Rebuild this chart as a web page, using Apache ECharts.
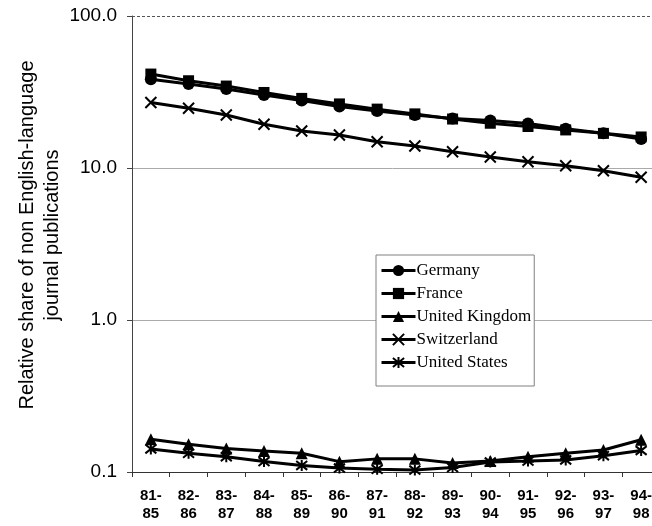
<!DOCTYPE html>
<html>
<head>
<meta charset="utf-8">
<script src="https://cdn.jsdelivr.net/npm/echarts@6/dist/echarts.min.js"></script>
<style>
html,body{margin:0;padding:0;background:#fff;}
#chart{width:652px;height:526px;}
</style>
</head>
<body>
<div id="chart"></div>
<script>
const categories = ['81-85','82-86','83-87','84-88','85-89','86-90','87-91','88-92','89-93','90-94','91-95','92-96','93-97','94-98'];
const germany = [38.3, 35.7, 33.1, 30.2, 27.8, 25.4, 23.7, 22.3, 21.2, 20.5, 19.6, 18.1, 16.9, 15.5];
const france = [41.5, 37.5, 34.6, 31.4, 28.7, 26.4, 24.4, 22.7, 21.0, 19.7, 18.75, 17.8, 16.9, 16.0];
const uk = [0.164, 0.152, 0.143, 0.1375, 0.133, 0.117, 0.122, 0.122, 0.1146, 0.118, 0.126, 0.133, 0.1395, 0.163];
const switzerland = [27.0, 24.7, 22.3, 19.4, 17.5, 16.5, 14.9, 13.95, 12.8, 11.8, 11.0, 10.35, 9.6, 8.7];
const usa = [0.1417, 0.1327, 0.126, 0.1172, 0.1104, 0.1062, 0.1042, 0.103, 0.107, 0.1163, 0.118, 0.120, 0.128, 0.1385];
const yTicks = [0.1, 1, 10, 100];
const yTitle = 'Relative share of non English-language\njournal publications';

const xSym = 'path://M0,0L10,10M10,0L0,10';
const starSym = 'path://M0,1L10,9M10,1L0,9M5,0L5,10';

function mk(name, data, symbol, size, isPath) {
  return {
    name: name, type: 'line', data: data,
    symbol: symbol, symbolSize: size, showSymbol: true,
    lineStyle: {color: '#000', width: 3},
    itemStyle: isPath ? {color: 'rgba(0,0,0,0)', borderColor: '#000', borderWidth: 2} : {color: '#000', borderColor: '#000', borderWidth: 0},
    emphasis: {disabled: true},
    animation: false
  };
}

const series = [
  mk('Germany', germany, 'circle', 12, false),
  mk('France', france, 'rect', 11, false),
  mk('United Kingdom', uk, 'triangle', 12, false),
  mk('Switzerland', switzerland, xSym, 11, true),
  mk('United States', usa, starSym, 11, true)
];
series[0].markLine = {
  silent: true, symbol: 'none', label: {show: false},
  lineStyle: {color: '#555', type: [3, 2], width: 1},
  data: [{yAxis: yTicks[yTicks.length - 1]}]
};

const chart = echarts.init(document.getElementById('chart'), null, {renderer: 'canvas'});
chart.setOption({
  backgroundColor: '#fff',
  animation: false,
  grid: {left: 132, top: 16, width: 528, height: 456, containLabel: false, outerBoundsMode: 'none'},
  legend: {
    orient: 'vertical',
    left: 376, top: 255,
    itemWidth: 34, itemHeight: 14, itemGap: 6,
    padding: [7, 3, 15, 4],
    backgroundColor: '#fff',
    borderColor: '#808080', borderWidth: 1,
    lineStyle: {width: 3},
    textStyle: {fontFamily: 'Liberation Serif', fontSize: 17, color: '#000', padding: [0, 0, 0, -4]},
    data: ['Germany', 'France', 'United Kingdom', 'Switzerland', 'United States']
  },
  xAxis: {
    type: 'category', data: categories, boundaryGap: true,
    axisLine: {lineStyle: {color: '#333', width: 1}},
    axisTick: {show: true, length: 5, lineStyle: {color: '#333'}},
    axisLabel: {
      interval: 0, margin: 15,
      fontFamily: 'Liberation Sans', fontSize: 15, fontWeight: 'bold', color: '#000', lineHeight: 18,
      formatter: v => v.replace('-', '-\n')
    },
    splitLine: {show: false}
  },
  yAxis: {
    type: 'log', logBase: 10, min: yTicks[0], max: yTicks[yTicks.length - 1],
    axisLine: {show: true, lineStyle: {color: '#444', width: 1}},
    axisTick: {show: true, length: 5, lineStyle: {color: '#444'}},
    minorTick: {show: false},
    axisLabel: {
      margin: 15, fontFamily: 'Liberation Sans', fontSize: 19, color: '#000',
      formatter: v => Number(v).toFixed(1)
    },
    splitLine: {show: true, lineStyle: {color: ['#aaa', '#aaa', '#aaa', 'rgba(0,0,0,0)'], width: 1}},
    name: yTitle, nameLocation: 'middle', nameRotate: 90, nameGap: 67, nameMoveOverlap: false,
    nameTextStyle: {fontFamily: 'Liberation Sans', fontSize: 20, color: '#000', lineHeight: 25, padding: [0, 0, 0, 18]}
  },
  series: series
});
</script>
</body>
</html>
